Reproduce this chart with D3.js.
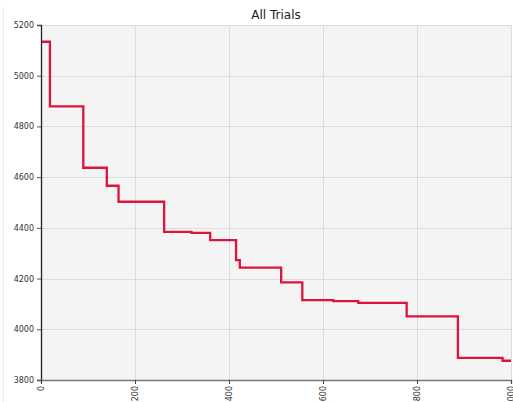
<!DOCTYPE html>
<html>
<head>
<meta charset="utf-8">
<script src="https://cdn.jsdelivr.net/npm/d3@7"></script>
<style>
  html, body { margin: 0; padding: 0; background: #fff; }
  svg { display: block; }
</style>
</head>
<body>
<svg id="chart" width="513" height="402"></svg>
<script>
// Trial index where the best value changes, and the best value from there on
const trialX = [0, 19, 90, 140, 165, 262, 320, 360, 415, 423, 511, 556, 622, 675, 778, 887, 982, 1000];
const bestY  = [5134, 4879, 4637, 4566, 4503, 4384, 4380, 4352, 4273, 4243, 4185, 4115, 4111, 4104, 4051, 3887, 3876, 3876];
const xTicks = [0, 200, 400, 600, 800, 1000];
const yTicks = [3800, 4000, 4200, 4400, 4600, 4800, 5000, 5200];
const title = "All Trials";

const svg = d3.select("#chart");
const m = { left: 41, right: 511, top: 25, bottom: 380 };
const x = d3.scaleLinear().domain([0, 1000]).range([m.left, m.right]);
const y = d3.scaleLinear().domain([3800, 5200]).range([m.bottom, m.top]);
const font = "'DejaVu Sans', Verdana, sans-serif";

// faint frame line on the left
svg.append("line").attr("x1", 3.5).attr("x2", 3.5).attr("y1", 7).attr("y2", 402)
  .attr("stroke", "#ececec").attr("stroke-width", 1);

// plot background
svg.append("rect").attr("x", m.left).attr("y", m.top)
  .attr("width", m.right - m.left).attr("height", m.bottom - m.top)
  .attr("fill", "#f4f4f4");

// grid
const grid = svg.append("g");
grid.selectAll(".gy").data(yTicks).join("line")
  .attr("x1", m.left).attr("x2", m.right)
  .attr("y1", d => Math.round(y(d)) + 0.5).attr("y2", d => Math.round(y(d)) + 0.5)
  .attr("stroke", "#dedede").attr("stroke-width", 1);
grid.selectAll(".gx").data(xTicks).join("line")
  .attr("y1", m.top).attr("y2", m.bottom)
  .attr("x1", d => Math.round(x(d)) + 0.5).attr("x2", d => Math.round(x(d)) + 0.5)
  .attr("stroke", "#dcdcdc").attr("stroke-width", 1);

// data line
const pts = trialX.map((d, i) => [d, bestY[i]]);
svg.append("path").datum(pts)
  .attr("fill", "none").attr("stroke", "#dc143c").attr("stroke-width", 2.3)
  .attr("d", d3.line().x(d => x(d[0])).y(d => y(d[1])).curve(d3.curveStepAfter));

// axes
const yAxis = svg.append("g").attr("transform", `translate(${m.left},0)`)
  .call(d3.axisLeft(y).tickValues(yTicks).tickSize(4).tickPadding(3).tickFormat(d3.format("d")));
yAxis.select(".domain").attr("stroke", "#222").attr("stroke-width", 1.3);
yAxis.selectAll(".tick line").attr("stroke", "#555");
yAxis.selectAll("text").attr("font-family", font).attr("font-size", 8).attr("fill", "#333");

const xAxis = svg.append("g").attr("transform", `translate(0,${m.bottom})`)
  .call(d3.axisBottom(x).tickValues(xTicks).tickSize(4).tickFormat(d3.format("d")));
xAxis.select(".domain").attr("stroke", "#777").attr("stroke-width", 1.3);
xAxis.selectAll(".tick line").attr("stroke", "#444");
xAxis.selectAll("text").attr("font-family", font).attr("font-size", 8).attr("fill", "#333")
  .attr("transform", "rotate(-90)").attr("text-anchor", "end")
  .attr("x", -6).attr("y", 0).attr("dy", "0.32em");

// title
svg.append("text").attr("x", (m.left + m.right) / 2).attr("y", 19)
  .attr("text-anchor", "middle").attr("font-family", font).attr("font-size", 12)
  .attr("fill", "#222").text(title);
</script>
</body>
</html>
